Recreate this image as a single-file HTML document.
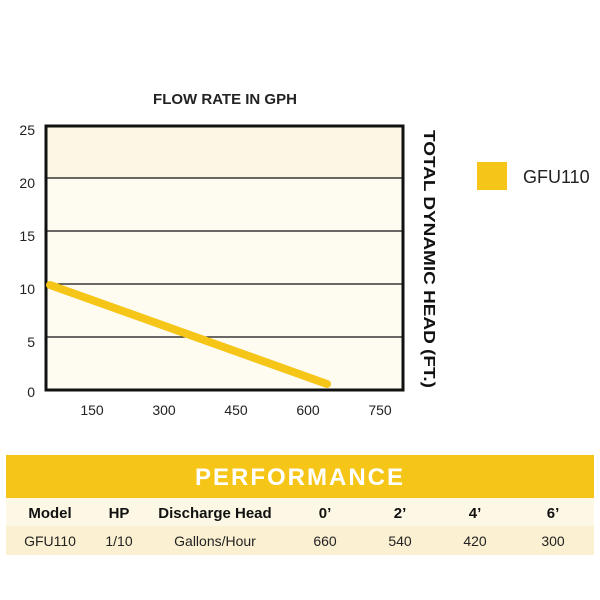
<!DOCTYPE html>
<html><head><style>
body{margin:0;width:600px;height:600px;background:#fff;position:relative;font-family:"Liberation Sans",Arial,sans-serif;overflow:hidden}
.a{position:absolute}
</style></head><body>
<svg class="a" style="left:0;top:0" width="600" height="600">
<text x="225" y="104" font-size="15" font-weight="bold" fill="#222" text-anchor="middle">FLOW RATE IN GPH</text>
<rect x="46" y="126" width="357" height="264" fill="#fefbf1" stroke="#111" stroke-width="3"/>
<rect x="47.5" y="127.5" width="354" height="50" fill="#fcf6e4"/>
<g stroke="#111" stroke-width="1.3">
<line x1="47" y1="178" x2="402" y2="178"/><line x1="47" y1="231" x2="402" y2="231"/>
<line x1="47" y1="284" x2="402" y2="284"/><line x1="47" y1="337" x2="402" y2="337"/>
</g>
<line x1="50" y1="285" x2="327" y2="384" stroke="#f5c518" stroke-width="8" stroke-linecap="round"/>
<g font-size="14" fill="#222" text-anchor="end">
<text x="35" y="135">25</text><text x="35" y="188">20</text><text x="35" y="241">15</text>
<text x="35" y="294">10</text><text x="35" y="347">5</text><text x="35" y="397">0</text>
</g>
<g font-size="14" fill="#222" text-anchor="middle">
<text x="92" y="415">150</text><text x="164" y="415">300</text><text x="236" y="415">450</text>
<text x="308" y="415">600</text><text x="380" y="415">750</text>
</g>
<text transform="translate(424,130) rotate(90)" font-size="16" font-weight="bold" fill="#111" textLength="258" lengthAdjust="spacingAndGlyphs">TOTAL DYNAMIC HEAD (FT.)</text>
<rect x="477" y="162" width="30" height="28" fill="#f5c518"/>
<text x="523" y="183" font-size="18" fill="#222">GFU110</text>
<rect x="6" y="455" width="588" height="43" fill="#f5c518"/>
<text x="300" y="485" font-size="24" font-weight="bold" fill="#fff" text-anchor="middle" letter-spacing="2">PERFORMANCE</text>
<rect x="6" y="498" width="588" height="28" fill="#fdf8e6"/>
<rect x="6" y="526" width="588" height="29" fill="#fbf0d2"/>
<g font-size="15" font-weight="bold" fill="#111" text-anchor="middle">
<text x="50" y="518">Model</text><text x="119" y="518">HP</text><text x="215" y="518">Discharge Head</text>
<text x="325" y="518">0’</text><text x="400" y="518">2’</text><text x="475" y="518">4’</text><text x="553" y="518">6’</text>
</g>
<g font-size="14" fill="#222" text-anchor="middle">
<text x="50" y="546">GFU110</text><text x="119" y="546">1/10</text><text x="215" y="546">Gallons/Hour</text>
<text x="325" y="546">660</text><text x="400" y="546">540</text><text x="475" y="546">420</text><text x="553" y="546">300</text>
</g>
</svg>
</body></html>
